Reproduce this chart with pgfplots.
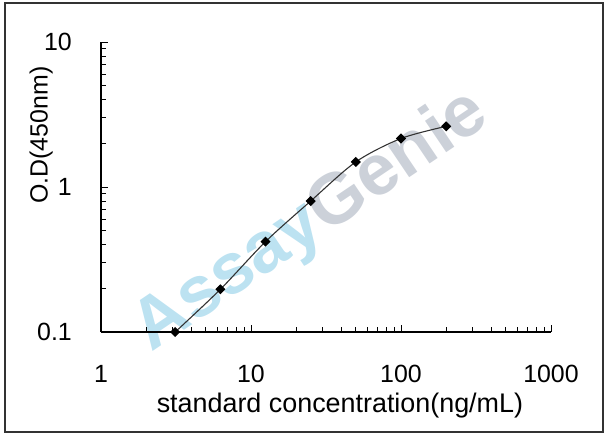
\documentclass[border=0pt]{standalone}
\usepackage{fontspec}
\setmainfont{Liberation Sans}
\usepackage{pgfplots}
\pgfplotsset{compat=1.18}

\definecolor{wmblue}{RGB}{188,226,241}
\definecolor{wmgray}{RGB}{204,209,217}

\begin{document}
\begin{tikzpicture}
  \path[use as bounding box] (0,0) rectangle (608bp,441bp);
  \draw[line width=1.5bp, black!80] (5bp,9bp) rectangle (603bp,438bp);

  % watermark
  \node[rotate=34, inner sep=0pt] at (311bp,219bp)
    {\fontsize{72}{80}\selectfont\bfseries{\color{wmblue}Assay}{\color{wmgray}Genie}};

  \begin{axis}[
      at={(101bp,109bp)}, anchor=south west,
      scale only axis,
      width=450bp, height=290bp,
      xmode=log, ymode=log,
      xmin=1, xmax=1000,
      ymin=0.1, ymax=10,
      axis x line=bottom, axis y line=left,
      axis line style={-, line width=1.2bp, black},
      tick style={black, line width=0.9bp},
      tick align=inside,
      major tick length=7bp,
      minor tick length=5bp,
      xtick={1,10,100,1000}, xticklabels={1,10,100,1000},
      ytick={0.1,1,10}, yticklabels={0.1,1,10},
      xticklabel style={font=\fontsize{25}{30}\selectfont, inner sep=0pt, anchor=north, yshift=-33bp},
      yticklabel style={font=\fontsize{25}{30}\selectfont, inner sep=0pt, anchor=east, xshift=-29bp},
      xlabel={standard concentration(ng/mL)},
      ylabel={O.D(450nm)},
      xlabel style={font=\fontsize{27}{32}\selectfont, at={(rel axis cs:0.531,-0.276)}, anchor=base, inner sep=0pt},
      ylabel style={font=\fontsize{25}{30}\selectfont, at={(rel axis cs:-0.133,0.679)}, anchor=center, inner sep=0pt},
      clip=false,
    ]
    \addplot[black!80, line width=1.1bp, smooth, tension=0.5,
             mark=square*, mark size=3bp,
             mark options={black, fill=black, rotate=45}]
      coordinates {
        (3.125,0.100)
        (6.25,0.197)
        (12.5,0.42)
        (25,0.80)
        (50,1.49)
        (100,2.16)
        (200,2.62)
      };
  \end{axis}
\end{tikzpicture}
\end{document}
